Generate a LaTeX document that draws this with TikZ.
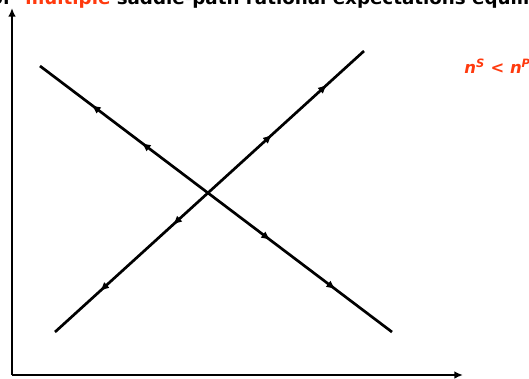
\documentclass[tikz,border=0pt]{standalone}
\usepackage{fontspec}
\setmainfont{DejaVu Sans}
\usetikzlibrary{arrows.meta, decorations.markings}
\definecolor{cred}{HTML}{FF3A0E}
\tikzset{
  every picture/.style={line width=2.3pt},
  axis/.style={-{Latex[length=2.6mm,width=2.3mm]}},
  flowtip/.tip={Latex[length=2.8mm,width=2.4mm]},
  % two arrows back towards the start, two on to the end: away from the crossing
  flow/.style n args={4}{postaction={decorate}, decoration={markings,
    mark=at position #1 with {\arrowreversed{flowtip}},
    mark=at position #2 with {\arrowreversed{flowtip}},
    mark=at position #3 with {\arrow{flowtip}},
    mark=at position #4 with {\arrow{flowtip}}}},
  title/.style={font=\fontsize{15.6}{18}\selectfont\bfseries, inner sep=0pt},
  label/.style={font=\fontsize{14}{17}\selectfont\bfseries\itshape, text=cred, inner sep=0pt},
}

\begin{document}
\begin{tikzpicture}[x=0.03cm, y=-0.03cm]
  \useasboundingbox (0,0) rectangle (529,378);
  \clip (0,0) rectangle (529,378);
  % title, cut by the top edge
  \node[title, anchor=base west] (title) at (24,4.5)
    {\llap{of\hspace{7pt} }\textcolor{cred}{multiple} saddle-path rational expectations equilibria};
  % axes
  \coordinate (O) at (12,375);
  \draw[axis] (O) -- (12,8);
  \draw[axis] (O) -- (463,375);
  % saddle paths
  \coordinate (a1) at (40,66);
  \coordinate (a2) at (392,332);
  \coordinate (b1) at (55,332);
  \coordinate (b2) at (364,51);
  \draw[flow={0.146}{0.288}{0.655}{0.840}] (a1) -- (a2);
  \draw[flow={0.145}{0.381}{0.703}{0.881}] (b1) -- (b2);
  \node[label, anchor=west] (cond) at (463,66) {n\textsuperscript{S} < n\textsuperscript{P}};
\end{tikzpicture}
\end{document}
